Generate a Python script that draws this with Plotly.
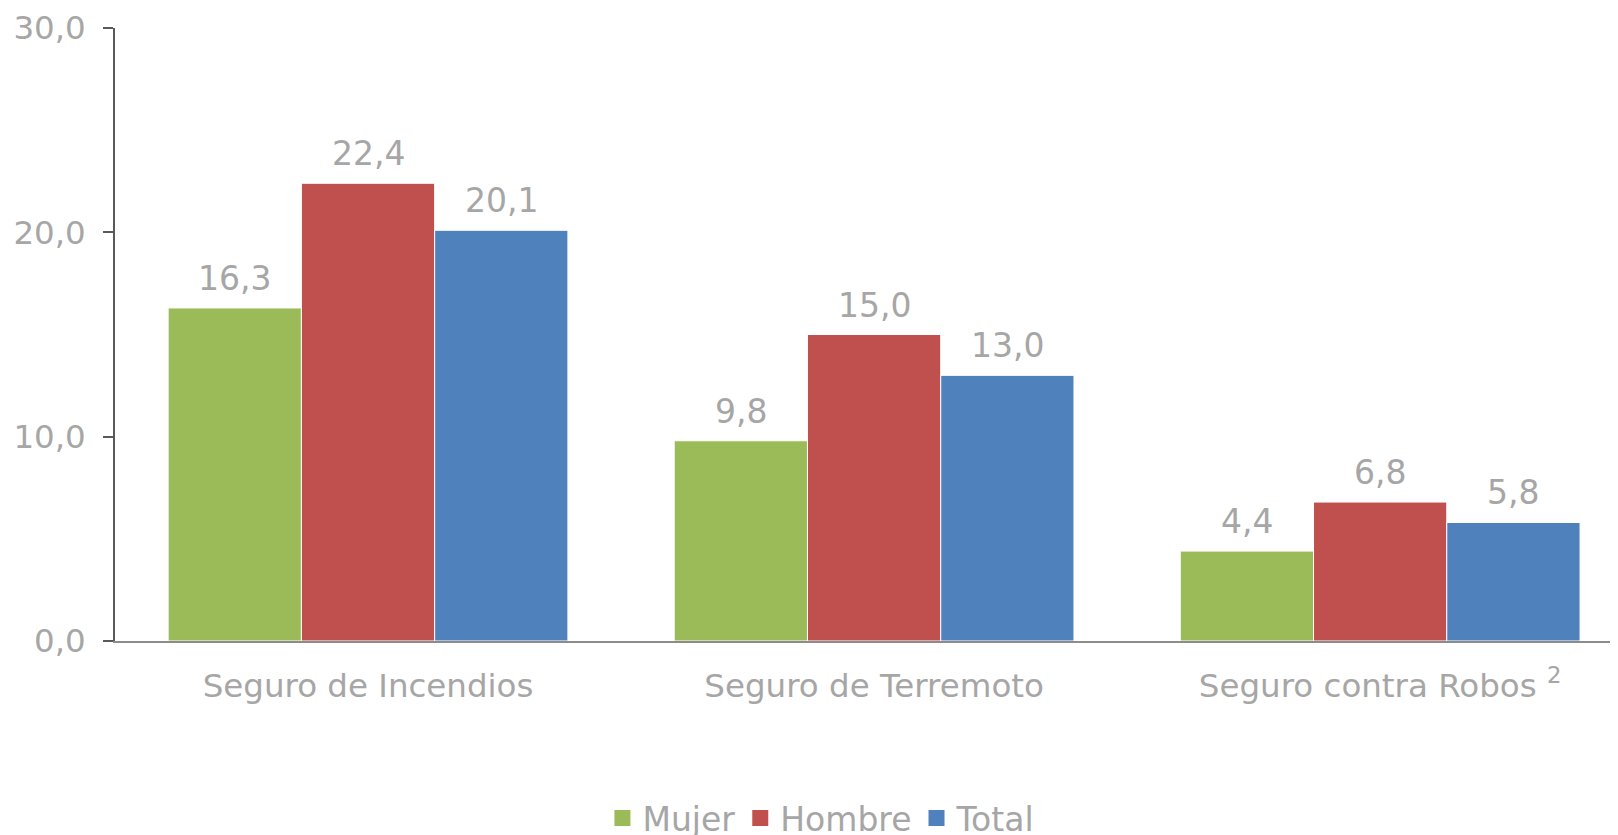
import plotly.graph_objects as go

categories = ["Seguro de Incendios", "Seguro de Terremoto", "Seguro contra Robos <sup>2</sup>"]
series_names = ["Mujer", "Hombre", "Total"]
mujer = [16.3, 9.8, 4.4]
hombre = [22.4, 15.0, 6.8]
total = [20.1, 13.0, 5.8]
colors = ["#9BBB59", "#C0504D", "#4F81BD"]
y_ticks = [0, 10, 20, 30]

FONT = "DejaVu Sans"
GRAY = "#A6A6A6"
FS = 33
BARGAP = 0.21

# the page body adds an 8px offset; size the figure to fit the window
W, H, OFF = 1618 - 8, 835 - 8, 8

fig = go.Figure()
all_series = [mujer, hombre, total]
for name, vals, col in zip(series_names, all_series, colors):
    fig.add_trace(go.Bar(
        name=name, x=categories, y=vals, showlegend=False,
        marker=dict(color=col, line=dict(color="white", width=1)),
    ))
# legend entries with larger square swatches
for name, col in zip(series_names, colors):
    fig.add_trace(go.Scatter(
        name=name, x=[None], y=[None], mode="markers",
        marker=dict(symbol="square", size=16, color=col), showlegend=True,
    ))

# data labels via annotations placed on the library's category scale
w = (1 - BARGAP) / len(all_series)
for si, vals in enumerate(all_series):
    off = (si - (len(all_series) - 1) / 2) * w
    for ci, v in enumerate(vals):
        fig.add_annotation(
            x=ci + off, y=v, xref="x", yref="y",
            text=f"{v:.1f}".replace(".", ","),
            showarrow=False, yanchor="bottom", yshift=8,
            font=dict(family=FONT, size=FS, color=GRAY),
        )

fig.update_layout(
    width=W, height=H,
    margin=dict(l=115 - OFF, r=0, t=28 - OFF, b=194, autoexpand=False),
    paper_bgcolor="white", plot_bgcolor="white",
    barmode="group", bargap=BARGAP, bargroupgap=0,
    separators=",.",
    font=dict(family=FONT, size=FS, color=GRAY),
    showlegend=True,
    legend=dict(orientation="h", x=0.47, xanchor="center", y=-0.289, yanchor="middle",
                font=dict(family=FONT, size=FS, color=GRAY), itemwidth=30,
                traceorder="normal"),
)
fig.update_xaxes(
    range=[-0.5, 2.47], showline=True, linecolor="#8C8C8C", linewidth=1.5,
    ticks="", ticklabelstandoff=15, showgrid=False, zeroline=False, automargin=False,
    tickfont=dict(family=FONT, size=32.5, color=GRAY),
)
fig.update_yaxes(
    range=[0, 30], tickvals=y_ticks, tickformat=".1f",
    showline=True, linecolor="#595959", linewidth=1.5,
    ticks="outside", ticklen=10, tickcolor="#595959", tickwidth=1.5,
    ticklabelstandoff=11, showgrid=False, zeroline=False, automargin=False,
    tickfont=dict(family=FONT, size=32.5, color=GRAY),
)

fig.write_html("out.html")
